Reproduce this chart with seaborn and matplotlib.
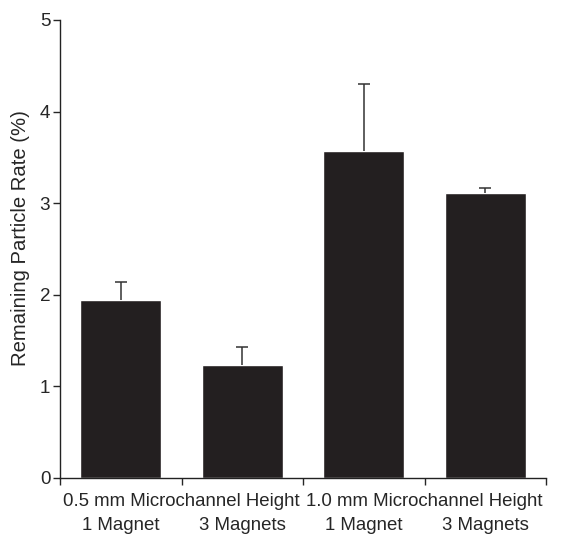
import matplotlib
matplotlib.use("Agg")
import matplotlib.pyplot as plt
import matplotlib.ticker as ticker
import pandas as pd
import seaborn as sns

# valores
condicoes = ["1 Magnet", "3 Magnets", "1 Magnet ", "3 Magnets "]
grupos = ["0.5 mm Microchannel Height", "1.0 mm Microchannel Height"]
taxa = [1.94, 1.23, 3.57, 3.11]
erro = [0.20, 0.20, 0.73, 0.06]

df = pd.DataFrame({"condicao": condicoes, "taxa": taxa})

sns.set_style("ticks")
plt.rcParams["font.family"] = ["Liberation Sans", "DejaVu Sans"]
fs = 13.4

fig = plt.figure(figsize=(5.88, 5.35), dpi=100)
ax = fig.add_axes([60 / 588, 57 / 535, 486 / 588, 458 / 535])

sns.barplot(data=df, x="condicao", y="taxa", color="#231f20",
            saturation=1, width=0.67, errorbar=None, ax=ax)

# barras de erro só para cima
eb = ax.errorbar(range(len(taxa)), taxa, yerr=[[0] * len(erro), erro],
                 fmt="none", ecolor="#333333", elinewidth=1.1,
                 capsize=4.5, capthick=1.1)
eb[1][0].set_visible(False)  # tira o cap de baixo

ax.set_xlim(-0.5, 3.5)
ax.set_ylim(0, 5)
ax.yaxis.set_major_locator(ticker.MultipleLocator(1))

# ticks maiores nas divisões, com o nome do grupo
ax.set_xticks([-0.5, 0.5, 1.5, 2.5, 3.5])
ax.set_xticklabels(["", grupos[0], "", grupos[1], ""])
ax.set_xticks(range(len(condicoes)), minor=True)
ax.set_xticklabels([c.strip() for c in condicoes], minor=True)
ax.tick_params(axis="x", which="minor", length=0, labelsize=fs, pad=28)
ax.tick_params(axis="x", which="major", length=5, width=1, labelsize=fs, pad=6)
ax.tick_params(axis="y", length=5, width=1, labelsize=13.6, pad=2)

ax.set_xlabel("")
ax.set_ylabel("Remaining Particle Rate (%)", fontsize=14.6)
ax.yaxis.set_label_coords(-0.062, 0.523)

for s in ["left", "bottom"]:
    ax.spines[s].set_linewidth(1)
    ax.spines[s].set_color("#222222")
sns.despine(ax=ax)

fig.savefig("out.png", dpi=100)
